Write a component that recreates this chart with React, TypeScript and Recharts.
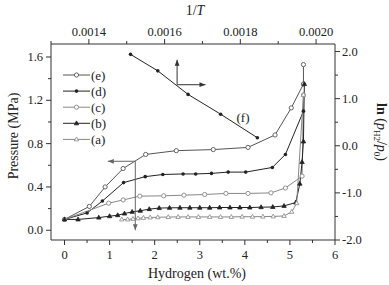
import React from 'react';
import {
  LineChart,
  Line,
  XAxis,
  YAxis,
  Legend,
  ReferenceLine,
  ReferenceDot,
} from 'recharts';

// hydrogen content (wt.%) and pressure (MPa) for curves (a)-(e)
const hydrogenE = [0, 0.55, 0.9, 1.3, 1.8, 2.48, 3.3, 4.07, 4.67, 5.03, 5.3, 5.3];
const pressureE = [0.1, 0.22, 0.4, 0.57, 0.7, 0.735, 0.745, 0.765, 0.88, 1.13, 1.35, 1.53];

const hydrogenD = [0, 0.5, 0.84, 1.31, 1.79, 2.18, 2.63, 2.91, 3.26, 3.63, 4.02, 4.61, 4.9, 5.3];
const pressureD = [0.1, 0.16, 0.27, 0.44, 0.495, 0.515, 0.52, 0.52, 0.525, 0.537, 0.537, 0.58, 0.7, 1.1];

const hydrogenC = [0, 0.98, 1.3, 1.67, 2.2, 2.65, 3.11, 3.58, 4.07, 4.58, 4.9, 5.27, 5.3];
const pressureC = [0.1, 0.25, 0.28, 0.315, 0.318, 0.324, 0.33, 0.34, 0.34, 0.345, 0.39, 0.5, 1.25];

const hydrogenB = [
  0, 0.3, 0.76, 1.0, 1.18, 1.33, 1.5, 1.68, 1.88, 2.1, 2.33, 2.56, 2.78, 3.0, 3.22, 3.44,
  3.67, 3.89, 4.11, 4.36, 4.62, 4.87, 5.13, 5.22, 5.27, 5.3, 5.32,
];
const pressureB = [
  0.1, 0.1, 0.117, 0.13, 0.139, 0.154, 0.17, 0.18, 0.195, 0.205, 0.207, 0.208, 0.208, 0.208,
  0.208, 0.21, 0.21, 0.21, 0.21, 0.213, 0.215, 0.225, 0.256, 0.43, 0.63, 0.82, 1.35,
];

const hydrogenA = [
  1.27, 1.4, 1.52, 1.63, 1.75, 1.9, 2.07, 2.3, 2.52, 2.74, 2.97, 3.22, 3.46, 3.7, 3.94, 4.17,
  4.4, 4.63, 4.87, 5.04, 5.15, 5.3,
];
const pressureA = [
  0.1, 0.1, 0.105, 0.11, 0.114, 0.118, 0.12, 0.122, 0.123, 0.123, 0.123, 0.123, 0.123, 0.123,
  0.125, 0.125, 0.126, 0.128, 0.132, 0.17, 0.25, 1.25,
];

// curve (f): 1/T vs ln(pH2/p0)
const inverseT = [0.00151, 0.001582, 0.001662, 0.001748, 0.001845];
const lnPressure = [1.94, 1.59, 1.09, 0.67, 0.17];

const hydrogenTicks = [0, 0.5, 1, 1.5, 2, 2.5, 3, 3.5, 4, 4.5, 5, 5.5, 6];
const pressureTicks = [0, 0.2, 0.4, 0.6, 0.8, 1.0, 1.2, 1.4, 1.6];
const inverseTTicks = [0.0013, 0.0014, 0.0015, 0.0016, 0.0017, 0.0018, 0.0019, 0.002];
const lnTicks = [-2, -1.5, -1, -0.5, 0, 0.5, 1, 1.5, 2];

const zip = (xs: number[], ys: number[]) => xs.map((x, i) => ({ x, y: ys[i] }));

const AXIS = '#333';
const FONT = 'Liberation Serif';

const OpenCircle = (color: string) => (p: any) => (
  <circle key={p.key} cx={p.cx} cy={p.cy} r={2.1} fill="#fff" stroke={color} strokeWidth={0.9} />
);
const FilledDot = (color: string) => (p: any) => (
  <circle key={p.key} cx={p.cx} cy={p.cy} r={1.8} fill={color} stroke="none" />
);
const Triangle = (color: string, filled: boolean) => (p: any) => (
  <path
    key={p.key}
    d={`M${p.cx},${p.cy - 2.4}L${p.cx + 2.2},${p.cy + 1.5}L${p.cx - 2.2},${p.cy + 1.5}Z`}
    fill={filled ? color : '#fff'}
    stroke={color}
    strokeWidth={0.8}
  />
);

const series = [
  { key: 'e', label: '(e)', color: '#555', data: zip(hydrogenE, pressureE), dot: OpenCircle('#555') },
  { key: 'd', label: '(d)', color: '#222', data: zip(hydrogenD, pressureD), dot: FilledDot('#222') },
  { key: 'c', label: '(c)', color: '#888', data: zip(hydrogenC, pressureC), dot: OpenCircle('#888') },
  { key: 'b', label: '(b)', color: '#222', data: zip(hydrogenB, pressureB), dot: Triangle('#222', true) },
  { key: 'a', label: '(a)', color: '#888', data: zip(hydrogenA, pressureA), dot: Triangle('#888', false) },
];

const arrowShape = (color: string) => (p: any) => {
  const { x1, y1, x2, y2 } = p;
  const a = Math.atan2(y2 - y1, x2 - x1);
  const bx = x2 - 6 * Math.cos(a);
  const by = y2 - 6 * Math.sin(a);
  const w = 2.4;
  return (
    <g>
      <line x1={x1} y1={y1} x2={x2} y2={y2} stroke={color} strokeWidth={1} />
      <polygon
        points={`${x2},${y2} ${bx + w * Math.sin(a)},${by - w * Math.cos(a)} ${bx - w * Math.sin(a)},${by + w * Math.cos(a)}`}
        fill={color}
      />
    </g>
  );
};

const txt = { fontFamily: FONT, fontSize: 12.5, fill: '#222' };

const BottomTick = ({ x, y, payload }: any) => {
  const major = Number.isInteger(payload.value);
  return (
    <g>
      <line x1={x} y1={y} x2={x} y2={y + (major ? 5 : 3)} stroke={AXIS} />
      {major && (
        <text x={x} y={y + 19} textAnchor="middle" {...txt}>
          {payload.value}
        </text>
      )}
    </g>
  );
};

const TopTick = ({ x, y, payload }: any) => {
  const major = Math.round(payload.value * 10000) % 2 === 0;
  return (
    <g>
      <line x1={x} y1={y} x2={x} y2={y - (major ? 5 : 3)} stroke={AXIS} />
      {major && (
        <text x={x} y={y - 8} textAnchor="middle" {...txt}>
          {payload.value.toFixed(4)}
        </text>
      )}
    </g>
  );
};

const LeftTick = ({ x, y, payload }: any) => {
  const major = Math.round(payload.value * 10) % 4 === 0;
  return (
    <g>
      <line x1={x} y1={y} x2={x - (major ? 5 : 3)} y2={y} stroke={AXIS} />
      {major && (
        <text x={x - 8} y={y + 4} textAnchor="end" {...txt}>
          {payload.value.toFixed(1)}
        </text>
      )}
    </g>
  );
};

const RightTick = ({ x, y, payload }: any) => {
  const major = Number.isInteger(payload.value);
  return (
    <g>
      <line x1={x} y1={y} x2={x + (major ? 5 : 3)} y2={y} stroke={AXIS} />
      {major && (
        <text x={x + 7} y={y + 4} textAnchor="start" {...txt}>
          {payload.value.toFixed(1)}
        </text>
      )}
    </g>
  );
};

const LegendBox = () => (
  <svg width={60} height={90}>
    {series.map((s, i) => {
      const cy = 8 + i * 16.1;
      const Dot = s.dot;
      return (
        <g key={s.key}>
          <line x1={3} y1={cy} x2={30} y2={cy} stroke={s.color} strokeWidth={1} />
          <Dot cx={16.5} cy={cy} key={s.key} />
          <text x={31} y={cy + 4.5} fontFamily={FONT} fontSize={13} fill="#222">
            {s.label}
          </text>
        </g>
      );
    })}
  </svg>
);

export default function App() {
  return (
    <div style={{ position: 'absolute', left: 0, top: 0, width: 389, height: 285, background: '#fff' }}>
      <LineChart
        width={389}
        height={285}
        margin={{ top: 20, right: 10, bottom: 20, left: 10 }}
        style={{ fontFamily: FONT }}
      >
        <XAxis
          xAxisId="bottom"
          type="number"
          dataKey="x"
          domain={[-0.3, 6]}
          ticks={hydrogenTicks}
          orientation="bottom"
          height={25}
          stroke={AXIS}
          tickLine={false}
          tickSize={0}
          tickMargin={0}
          tick={<BottomTick />}
          interval={0}
          allowDataOverflow
        />
        <XAxis
          xAxisId="top"
          type="number"
          dataKey="x"
          domain={[0.0013, 0.00205]}
          ticks={inverseTTicks}
          orientation="top"
          height={24}
          stroke={AXIS}
          tickLine={false}
          tickSize={0}
          tickMargin={0}
          tick={<TopTick />}
          interval={0}
          allowDataOverflow
        />
        <YAxis
          yAxisId="left"
          type="number"
          dataKey="y"
          domain={[-0.09, 1.72]}
          ticks={pressureTicks}
          width={41}
          stroke={AXIS}
          tickLine={false}
          tickSize={0}
          tickMargin={0}
          tick={<LeftTick />}
          interval={0}
          allowDataOverflow
        />
        <YAxis
          yAxisId="right"
          type="number"
          dataKey="y"
          orientation="right"
          domain={[-2, 2.16]}
          ticks={lnTicks}
          width={44}
          stroke={AXIS}
          tickLine={false}
          tickSize={0}
          tickMargin={0}
          tick={<RightTick />}
          interval={0}
          allowDataOverflow
        />
        <Legend
          layout="vertical"
          align="center"
          verticalAlign="middle"
          wrapperStyle={{ left: 60, top: 67, width: 60, height: 90 }}
          content={<LegendBox />}
        />
        {series.map((s) => (
          <Line
            key={s.key}
            data={s.data}
            dataKey="y"
            xAxisId="bottom"
            yAxisId="left"
            type="linear"
            stroke={s.color}
            strokeWidth={1}
            dot={s.dot}
            activeDot={false}
            isAnimationActive={false}
          />
        ))}
        <Line
          data={zip(inverseT, lnPressure)}
          dataKey="y"
          xAxisId="top"
          yAxisId="right"
          type="linear"
          stroke="#222"
          strokeWidth={1}
          dot={FilledDot('#222')}
          activeDot={false}
          legendType="none"
          isAnimationActive={false}
        />
        <ReferenceLine
          xAxisId="bottom"
          yAxisId="left"
          segment={[{ x: 1.57, y: 0.637 }, { x: 0.96, y: 0.637 }]}
          shape={arrowShape('#666')}
        />
        <ReferenceLine
          xAxisId="bottom"
          yAxisId="left"
          segment={[{ x: 1.57, y: 0.637 }, { x: 1.57, y: 0.0 }]}
          shape={arrowShape('#666')}
        />
        <ReferenceLine
          xAxisId="top"
          yAxisId="right"
          segment={[{ x: 0.001633, y: 1.296 }, { x: 0.001633, y: 1.825 }]}
          shape={arrowShape('#333')}
        />
        <ReferenceLine
          xAxisId="top"
          yAxisId="right"
          segment={[{ x: 0.001633, y: 1.296 }, { x: 0.001708, y: 1.296 }]}
          shape={arrowShape('#333')}
        />
        <ReferenceDot
          xAxisId="top"
          yAxisId="right"
          x={0.001807}
          y={0.6}
          r={0}
          fill="none"
          stroke="none"
          label={{ value: '(f)', position: 'center', fontFamily: FONT, fontSize: 13, fill: '#222' }}
        />
      </LineChart>
      <svg
        width={389}
        height={285}
        style={{ position: 'absolute', left: 0, top: 0, pointerEvents: 'none' }}
      >
        <text x={195} y={15} textAnchor="middle" fontFamily={FONT} fontSize={14} fill="#222">
          1/<tspan fontStyle="italic">T</tspan>
        </text>
        <text x={197} y={278} textAnchor="middle" fontFamily={FONT} fontSize={14} fill="#222">
          Hydrogen (wt.%)
        </text>
        <text
          transform="translate(18,136) rotate(-90)"
          textAnchor="middle"
          fontFamily={FONT}
          fontSize={14}
          fill="#222"
        >
          Pressure (MPa)
        </text>
        <text
          transform="translate(377,132) rotate(90)"
          textAnchor="middle"
          fontFamily={FONT}
          fontSize={14}
          fill="#222"
        >
          <tspan fontWeight="bold">ln</tspan> (<tspan fontStyle="italic">p</tspan>
          <tspan fontSize={9} dy={3}>H2</tspan>
          <tspan dy={-3}>/</tspan>
          <tspan fontStyle="italic">p</tspan>
          <tspan fontSize={9} dy={3}>0</tspan>
          <tspan dy={-3}>)</tspan>
        </text>
      </svg>
    </div>
  );
}
